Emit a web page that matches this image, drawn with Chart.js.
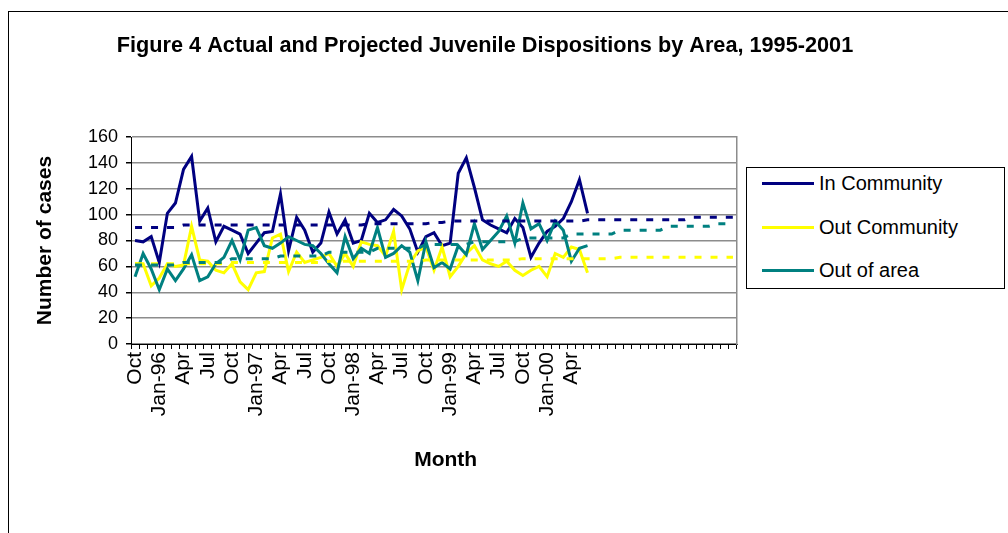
<!DOCTYPE html>
<html>
<head>
<meta charset="utf-8">
<script src="https://cdn.jsdelivr.net/npm/chart.js@4/dist/chart.umd.min.js"></script>
<style>
  body { margin: 0; background: #fff; overflow: hidden; font-family: "Liberation Sans", Arial, sans-serif; }
  #marco { position: absolute; left: 8px; top: 11px; width: 1100px; height: 600px; border: 1px solid #000; }
  #grafico { position: absolute; left: 0; top: 0; }
  #leyenda { position: absolute; left: 746px; top: 167px; width: 257px; height: 120px; border: 1px solid #000; background: #fff; }
  .item { position: absolute; left: 15px; height: 24px; display: flex; align-items: center; font-size: 20px; color: #000; }
  .muestra { width: 52px; height: 3px; margin-right: 5px; }
</style>
</head>
<body>
<div id="marco"></div>
<canvas id="grafico" width="1008" height="533"></canvas>
<div id="leyenda"></div>
<script>
// meses de la serie (Oct 1995 - Dic 2001)
const meses = [
  'Oct-95','Nov-95','Dec-95',
  'Jan-96','Feb-96','Mar-96','Apr-96','May-96','Jun-96','Jul-96','Aug-96','Sep-96','Oct-96','Nov-96','Dec-96',
  'Jan-97','Feb-97','Mar-97','Apr-97','May-97','Jun-97','Jul-97','Aug-97','Sep-97','Oct-97','Nov-97','Dec-97',
  'Jan-98','Feb-98','Mar-98','Apr-98','May-98','Jun-98','Jul-98','Aug-98','Sep-98','Oct-98','Nov-98','Dec-98',
  'Jan-99','Feb-99','Mar-99','Apr-99','May-99','Jun-99','Jul-99','Aug-99','Sep-99','Oct-99','Nov-99','Dec-99',
  'Jan-00','Feb-00','Mar-00','Apr-00','May-00','Jun-00','Jul-00','Aug-00','Sep-00','Oct-00','Nov-00','Dec-00',
  'Jan-01','Feb-01','Mar-01','Apr-01','May-01','Jun-01','Jul-01','Aug-01','Sep-01','Oct-01','Nov-01','Dec-01'
];

// texto de cada marca del eje x (vacio = sin texto)
const etiquetas = [
  'Oct','','','Jan-96','','','Apr','','','Jul','','',
  'Oct','','','Jan-97','','','Apr','','','Jul','','',
  'Oct','','','Jan-98','','','Apr','','','Jul','','',
  'Oct','','','Jan-99','','','Apr','','','Jul','','',
  'Oct','','','Jan-00','','','Apr','','','','','',
  '','','','','','','','','','','','',
  '','',''
];

// valores reales (Oct-95 a Jun-00)
const enComunidad = [80, 79, 83, 63, 101, 109, 135, 145, 95, 105, 79, 91, 88, 85, 70,
  78, 86, 87, 116, 72, 98, 88, 71, 78, 102, 85, 96, 78, 80,
  101, 94, 96, 104, 99, 89, 71, 83, 86, 76, 78, 132, 144, 121, 96,
  92, 89, 86, 97, 90, 67, 78, 87, 91, 97, 110, 127, 101];

const fueraComunidad = [62, 62, 45, 51, 62, 60, 61, 91, 65, 64, 57, 55, 62, 48, 42,
  55, 56, 82, 85, 56, 71, 63, 65, 67, 70, 60, 70, 60, 79,
  77, 76, 68, 87, 42, 62, 72, 75, 57, 75, 52, 60, 70, 76, 65,
  62, 60, 64, 57, 53, 57, 60, 52, 70, 67, 75, 73, 55];

const fueraArea = [52, 70, 58, 42, 58, 49, 58, 69, 49, 52, 62, 67, 80, 65, 88,
  90, 76, 74, 78, 83, 80, 77, 76, 70, 62, 55, 83, 66, 74,
  70, 90, 67, 70, 76, 71, 49, 79, 59, 63, 58, 76, 69, 93, 73,
  80, 87, 99, 78, 109, 89, 93, 80, 95, 88, 64, 74, 76];

// proyecciones (lineas punteadas, todo el periodo)
const proyComunidad = [90, 90, 90, 90, 90, 90, 92, 92, 92, 92, 92, 92,
  92, 92, 92, 92, 92, 92, 92, 92, 92, 92, 92, 92,
  92, 92, 92, 92, 92, 93, 93, 93, 93, 93, 93, 93,
  93, 94, 94, 95, 95, 95, 95, 95, 95, 95, 95, 95,
  95, 95, 95, 95, 95, 95, 95, 95, 96, 96, 96, 96,
  96, 96, 96, 96, 96, 96, 96, 96, 96, 98, 98, 98,
  98, 98, 98];

const proyFuera = [62, 62, 62, 62, 62, 62, 62, 62, 62, 62, 62, 62,
  63, 63, 63, 63, 63, 63, 63, 63, 63, 63, 63, 63,
  64, 64, 64, 64, 64, 64, 64, 64, 64, 64, 64, 64,
  65, 65, 65, 65, 65, 65, 65, 65, 65, 65, 65, 65,
  66, 66, 66, 66, 66, 66, 66, 66, 66, 66, 66, 66,
  67, 67, 67, 67, 67, 67, 67, 67, 67, 67, 67, 67,
  67, 67, 67];

const proyArea = [61, 61, 61, 61, 61, 61, 63, 63, 63, 63, 63, 63,
  66, 66, 66, 66, 66, 66, 68, 68, 68, 68, 68, 68,
  71, 71, 71, 71, 71, 71, 74, 74, 74, 74, 74, 74,
  77, 77, 77, 77, 77, 77, 79, 79, 79, 79, 79, 79,
  82, 82, 82, 82, 82, 82, 85, 85, 85, 85, 85, 85,
  88, 88, 88, 88, 88, 88, 91, 91, 91, 91, 91, 91,
  93, 93, 93];

const nombres = ['In Community', 'Out Community', 'Out of area'];
const colores = ['#000080', '#ffff00', '#008080'];

const fuente = '"Liberation Sans", Arial, sans-serif';

function serie(label, data, color, orden) {
  return { label, data, borderColor: color, backgroundColor: color, borderWidth: 3,
    pointRadius: 0, tension: 0, fill: false, order: orden };
}

function proyeccion(data, color, orden) {
  return { label: 'proy', data, borderColor: color, borderWidth: 3, borderDash: [7, 9],
    pointRadius: 0, tension: 0, fill: false, order: orden };
}

function armarLeyenda() {
  const caja = document.getElementById('leyenda');
  const tops = [3, 47, 90];
  nombres.forEach((n, i) => {
    const item = document.createElement('div');
    item.className = 'item';
    item.style.top = tops[i] + 'px';
    const linea = document.createElement('div');
    linea.className = 'muestra';
    linea.style.background = colores[i];
    const texto = document.createElement('span');
    texto.textContent = n;
    item.appendChild(linea);
    item.appendChild(texto);
    caja.appendChild(item);
  });
}

function graficar() {
  const ctx = document.getElementById('grafico').getContext('2d');
  new Chart(ctx, {
    type: 'line',
    data: {
      labels: meses,
      datasets: [
        serie(nombres[0], enComunidad, colores[0], 6),
        serie(nombres[1], fueraComunidad, colores[1], 5),
        serie(nombres[2], fueraArea, colores[2], 4),
        proyeccion(proyComunidad, colores[0], 3),
        proyeccion(proyFuera, colores[1], 2),
        proyeccion(proyArea, colores[2], 1)
      ]
    },
    options: {
      responsive: false,
      animation: false,
      layout: { padding: { left: 0, right: 38, top: 0, bottom: 0 } },
      plugins: {
        legend: { display: false },
        tooltip: { enabled: false },
        title: {
          display: true,
          text: 'Figure 4 Actual and Projected Juvenile Dispositions by Area, 1995-2001',
          color: '#000',
          font: { family: fuente, size: 21.7, weight: 'bold' },
          padding: { top: 33, bottom: 78 }
        }
      },
      scales: {
        x: {
          offset: true,
          grid: { offset: true, drawOnChartArea: false, tickLength: 5, color: '#000', tickColor: '#000' },
          border: { color: '#000', width: 1 },
          ticks: {
            autoSkip: false, minRotation: 90, maxRotation: 90, padding: 3,
            color: '#000', font: { family: fuente, size: 21 },
            callback: (v, i) => etiquetas[i]
          },
          title: { display: true, text: '    Month', color: '#000',
            font: { family: fuente, size: 21, weight: 'bold' }, padding: { top: 0, bottom: 60 } },
          afterFit: (eje) => { eje.height = 189; }
        },
        y: {
          min: 0, max: 160,
          grid: { color: '#8c8c8c', lineWidth: 1.5, tickColor: '#000', tickLength: 5 },
          border: { color: '#000', width: 1 },
          ticks: { stepSize: 20, padding: 8, color: '#000', font: { family: fuente, size: 18 } },
          title: { display: true, text: 'Number of cases', color: '#000',
            font: { family: fuente, size: 21, weight: 'bold' }, padding: { top: 33, bottom: 0 } },
          afterFit: (eje) => { eje.width = 131; }
        },
        y2: {
          position: 'right',
          grid: { display: false },
          ticks: { display: false },
          border: { color: '#8c8c8c', width: 1.5 },
          afterFit: (eje) => { eje.width = 233; }
        }
      }
    }
  });
}

armarLeyenda();
graficar();
</script>
</body>
</html>
